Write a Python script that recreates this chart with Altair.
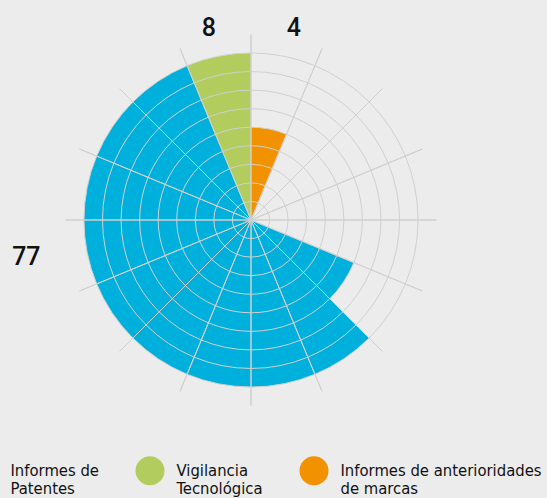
import math
import altair as alt
import pandas as pd

# ---- data -------------------------------------------------------------
categories = ["Informes de Patentes", "Vigilancia Tecnológica",
              "Informes de anterioridades de marcas"]
totals = [77, 8, 4]
colors = ["#00b0dc", "#b2cd5e", "#f39200"]
legend_lines = [["Informes de", "Patentes"],
                ["Vigilancia", "Tecnológica"],
                ["Informes de anterioridades", "de marcas"]]

# 16 sectors (clockwise from 12 o'clock): category index and radius (rings)
sector_index = list(range(16))
sector_category = [2, -1, -1, -1, -1, 0, 0, 0, 0, 0, 0, 0, 0, 0, 0, 1]
sector_value = [5, 0, 0, 0, 0, 6, 9, 9, 9, 9, 9, 9, 9, 9, 9, 9]

ring_values = [1, 2, 3, 4, 5, 6, 7, 8, 9]
spoke_values = list(range(16))
spoke_length = 10

# label placement (sector units, ring units) for each total
label_angle = [11.58, 15.45, 0.56]
label_radius = [12.27, 10.6, 10.6]

# ---- tables -------------------------------------------------------------
bars_df = pd.DataFrame({
    "start": [i for i, v in zip(sector_index, sector_value) if v > 0],
    "end": [i + 1 for i, v in zip(sector_index, sector_value) if v > 0],
    "r": [v for v in sector_value if v > 0],
    "category": [categories[c] for c, v in zip(sector_category, sector_value) if v > 0],
})
rings_df = pd.DataFrame({"t0": 0, "t1": 16, "r": ring_values})
spokes_df = pd.DataFrame({"a": spoke_values, "r": spoke_length})
labels_df = pd.DataFrame({"text": [str(t) for t in totals],
                          "angle": label_angle, "rad": label_radius})

theta_scale = alt.Scale(domain=[0, 16], range=[0, 2 * math.pi])
r_scale = alt.Scale(type="linear", domain=[0, 10], range=[0, 185.6], zero=True)
grid_color = "#d0d0d0"
text_font = "DejaVu Sans Condensed, Liberation Sans Narrow, sans-serif"

label_expr = " : ".join(
    f"datum.label == '{c}' ? {l!r}" for c, l in zip(categories, legend_lines)
) + " : datum.label"

bars = alt.Chart(bars_df).mark_arc().encode(
    theta=alt.Theta("start:Q", scale=theta_scale, stack=None),
    theta2=alt.Theta2("end"),
    radius=alt.Radius("r:Q", scale=r_scale),
    color=alt.Color(
        "category:N",
        scale=alt.Scale(domain=categories, range=colors),
        legend=alt.Legend(
            title=None, orient="none", direction="horizontal",
            legendX=-30.5, legendY=456,
            symbolType="circle", symbolSize=841, symbolStrokeWidth=0,
            symbolOpacity=1, labelFont=text_font, labelFontSize=16.5,
            labelColor="#111111", labelOffset=12, labelLimit=0,
            columnPadding=36, labelExpr=label_expr,
        ),
    ),
)

rings = alt.Chart(rings_df).mark_arc(
    fillOpacity=0, stroke=grid_color, strokeWidth=1
).encode(
    theta=alt.Theta("t0:Q", scale=theta_scale, stack=None),
    theta2=alt.Theta2("t1"),
    radius=alt.Radius("r:Q", scale=r_scale),
)

spokes = alt.Chart(spokes_df).mark_arc(
    fillOpacity=0, stroke=grid_color, strokeWidth=1
).encode(
    theta=alt.Theta("a:Q", scale=theta_scale, stack=None),
    theta2=alt.Theta2("a"),
    radius=alt.Radius("r:Q", scale=r_scale),
)

labels = alt.Chart(labels_df).mark_text(
    font="Roboto", fontSize=25, fontWeight=500, color="#111111",
    align="center", baseline="middle",
).encode(
    theta=alt.Theta("angle:Q", scale=theta_scale, stack=None),
    radius=alt.Radius("rad:Q", scale=r_scale),
    text="text:N",
)

chart = alt.layer(bars, rings, spokes, labels).properties(
    width=502, height=440,
    padding={"left": 0, "top": 0, "right": 45, "bottom": 58},
    autosize=alt.AutoSizeParams(type="none"),
    background="#ececec",
).configure_view(stroke=None)

chart.save("out.html", embed_options={"renderer": "svg", "actions": False})
